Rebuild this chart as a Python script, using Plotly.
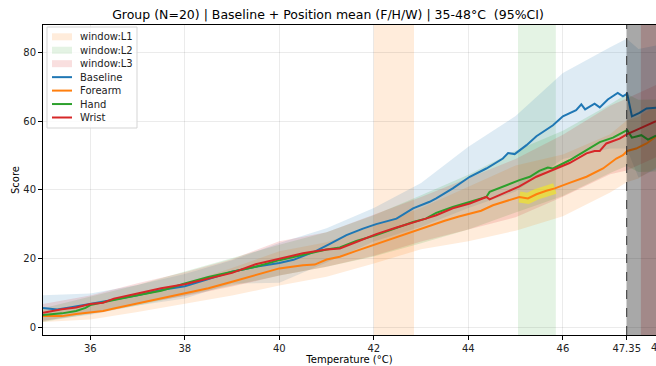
import plotly.graph_objects as go

# ---------------- data ----------------
base_x = [35.0,35.3,35.6,36.0,36.5,37.0,37.5,38.0,38.5,39.0,39.5,40.0,40.3,40.57,40.78,41.06,41.42,41.77,42.05,42.48,42.83,43.18,43.32,43.67,44.03,44.38,44.73,44.84,44.98,45.23,45.44,45.79,46.0,46.28,46.39,46.47,46.67,46.78,46.95,47.16,47.27,47.36,47.46,47.62,47.77,47.97]
base_y = [5.6,5.1,5.8,6.7,8.0,9.3,10.8,11.9,14.1,16.1,17.6,18.7,19.6,21.0,22.2,24.2,26.8,28.7,30.0,31.6,34.6,36.5,37.5,40.4,43.8,46.2,49.1,50.7,50.4,53.0,55.6,58.8,61.4,63.2,64.9,63.4,65.1,64.0,66.3,68.2,67.2,68.0,61.4,62.4,63.7,63.9]

fore_x = [35.0,35.4,35.7,36.0,36.27,36.5,37.0,37.5,38.0,38.5,39.0,39.5,40.0,40.5,40.75,41.0,41.28,41.63,42.05,42.48,42.83,43.18,43.5,43.8,44.03,44.27,44.52,44.8,45.08,45.26,45.44,45.65,45.83,46.14,46.5,46.85,47.13,47.27,47.36,47.55,47.77,47.97]
fore_y = [3.2,3.2,3.8,4.2,4.7,5.4,6.9,8.3,9.8,11.3,13.2,15.1,17.1,18.0,18.2,19.7,20.5,22.2,24.2,26.1,27.7,29.4,31.0,32.2,33.1,33.9,35.5,36.8,37.9,37.5,38.7,39.7,40.4,42.0,43.8,46.2,49.1,50.1,51.3,52.0,53.5,55.5]

hand_x = [35.0,35.4,35.7,35.9,36.0,36.27,36.5,37.0,37.5,38.0,38.5,39.0,39.5,40.0,40.5,41.0,41.28,41.63,42.05,42.48,42.83,43.1,43.32,43.67,44.03,44.38,44.45,44.73,45.08,45.3,45.5,45.68,45.79,46.14,46.42,46.78,47.06,47.36,47.46,47.66,47.8,47.97]
hand_y = [3.5,4.0,4.7,5.6,6.4,7.1,7.9,9.3,10.6,12.7,14.6,16.1,17.6,19.5,21.0,22.6,23.2,25.1,26.8,29.0,30.6,31.6,33.3,35.0,36.5,37.9,39.4,41.0,42.8,43.8,45.5,46.5,46.2,48.6,51.0,53.9,55.2,57.4,55.2,55.9,54.6,55.8]

wrist_x = [35.0,35.4,35.7,36.0,36.27,36.5,37.0,37.5,38.0,38.5,39.0,39.5,40.0,40.5,41.0,41.28,41.63,42.05,42.48,42.83,43.1,43.32,43.67,44.03,44.38,44.45,44.73,45.08,45.44,45.79,46.14,46.5,46.67,46.78,46.92,47.2,47.36,47.62,47.97]
wrist_y = [4.2,5.2,5.7,6.7,7.1,8.3,9.8,11.3,12.5,14.2,15.8,18.3,20.0,21.5,22.6,22.9,24.8,27.1,29.0,30.4,31.6,32.6,34.6,36.0,37.9,37.2,38.9,41.0,43.8,45.7,47.8,50.6,51.3,51.3,53.5,54.9,56.2,57.8,60.0]

# 95% CI bounds
ci_x = [35,36,37,38,39,40,41,42,43,44,45,46,47,47.35,47.6,47.97]
base_lo = [1.9,3.6,6.3,8.3,12.7,12.9,18.8,24.9,29.2,34.7,39.5,49.0,52.0,52.0,43.6,46.0]
base_hi = [9.3,9.8,12.3,15.5,19.5,24.5,28.8,34.7,42.0,52.5,61.5,74.0,81.5,84.0,81.0,82.0]
fore_lo = [1.5,2.2,4.4,6.8,9.2,12.1,14.7,18.5,22.7,25.0,28.1,32.3,39.2,42.2,43.3,46.5]
fore_hi = [4.9,6.2,9.4,12.8,17.2,22.1,24.7,29.5,34.7,41.0,47.1,50.3,56.2,60.2,61.3,64.5]
hand_lo = [1.5,3.9,6.3,9.2,12.1,15.0,17.6,20.6,24.4,28.4,33.4,38.2,44.9,46.9,45.2,45.3]
hand_hi = [5.5,8.9,12.3,16.2,20.1,24.0,27.6,32.6,38.4,44.4,51.4,57.2,64.9,67.9,66.2,66.3]
wrist_lo = [1.7,4.2,6.8,9.0,11.8,15.0,17.6,20.8,24.9,28.4,32.0,38.0,44.5,45.6,47.2,49.5]
wrist_hi = [6.7,9.2,12.8,16.0,19.8,25.0,27.6,32.8,37.9,43.4,49.0,56.0,64.5,66.6,68.2,70.5]

windows = {"L1": (42.0, 42.85), "L2": (45.05, 45.85), "L3": (47.65, 48.6)}
cutoff = 47.35
x_ticks = [36, 38, 40, 42, 44, 46, 47.35]
x_ticktext = ["36", "38", "40", "42", "44", "46", "47.35"]
y_ticks = [0, 20, 40, 60, 80]

# ---------------- style ----------------
C = {"Baseline": "31,119,180", "Forearm": "255,127,14", "Hand": "44,160,44", "Wrist": "214,39,40"}
win_col = {"L1": "rgba(255,127,14,0.15)", "L2": "rgba(44,160,44,0.13)", "L3": "rgba(214,39,40,0.22)"}
leg_patch = {"L1": "rgba(255,127,14,0.15)", "L2": "rgba(44,160,44,0.13)", "L3": "rgba(214,39,40,0.15)"}
FONT = "DejaVu Sans"
XMAX = 47.97
W, H = 656, 366
ML, MR, MT, MB = 43, 0, 25, 31
PW, PH = W - ML - MR, H - MT - MB

def px(x):  # pixel -> paper x
    return (x - ML) / PW

def py(y):  # pixel -> paper y
    return (H - MB - y) / PH

series = [
    ("Baseline", base_x, base_y, base_lo, base_hi),
    ("Forearm", fore_x, fore_y, fore_lo, fore_hi),
    ("Hand", hand_x, hand_y, hand_lo, hand_hi),
    ("Wrist", wrist_x, wrist_y, wrist_lo, wrist_hi),
]

fig = go.Figure()

# window shading
for k, (a, b) in windows.items():
    fig.add_shape(type="rect", xref="x", yref="paper", x0=a, x1=b, y0=0, y1=1,
                  fillcolor=win_col[k], line_width=0, layer="below")

# CI bands
for name, xs, ys, lo, hi in series:
    fig.add_trace(go.Scatter(x=ci_x, y=hi, mode="lines", line=dict(width=0),
                             showlegend=False, hoverinfo="skip"))
    fig.add_trace(go.Scatter(x=ci_x, y=lo, mode="lines", line=dict(width=0),
                             fill="tonexty", fillcolor=f"rgba({C[name]},0.15)",
                             showlegend=False, hoverinfo="skip"))

# highlight of forearm in L2 window
a, b = windows["L2"]
hx = [x for x in fore_x if a <= x <= b]
hy = [y for x, y in zip(fore_x, fore_y) if a <= x <= b]
fig.add_trace(go.Scatter(x=hx, y=hy, mode="lines",
                         line=dict(color="rgba(255,245,0,0.5)", width=11),
                         showlegend=False, hoverinfo="skip"))

# mean lines
for name, xs, ys, lo, hi in series:
    fig.add_trace(go.Scatter(x=xs, y=ys, mode="lines", name=name, showlegend=False,
                             line=dict(color=f"rgb({C[name]})", width=2)))

# end region and cutoff
fig.add_shape(type="rect", xref="x", yref="paper", x0=cutoff, x1=48.6, y0=0, y1=1,
              fillcolor="rgba(0,0,0,0.34)", line_width=0, layer="above")
fig.add_shape(type="line", xref="x", yref="paper", x0=cutoff, x1=cutoff, y0=0, y1=1,
              line=dict(color="#333333", width=1, dash="dash"), layer="above")

# ---- legend (matplotlib-like compact box) ----
fig.add_shape(type="rect", xref="paper", yref="paper", x0=px(47), x1=px(137),
              y0=py(128), y1=py(27), fillcolor="rgba(255,255,255,0.8)",
              line=dict(color="#d5d5d5", width=1), layer="above")
leg_items = [("window:L1", "patch", leg_patch["L1"]),
             ("window:L2", "patch", leg_patch["L2"]),
             ("window:L3", "patch", leg_patch["L3"]),
             ("Baseline", "line", f"rgb({C['Baseline']})"),
             ("Forearm", "line", f"rgb({C['Forearm']})"),
             ("Hand", "line", f"rgb({C['Hand']})"),
             ("Wrist", "line", f"rgb({C['Wrist']})")]
y0 = 36.8
step = 13.45
for i, (label, kind, col) in enumerate(leg_items):
    yc = y0 + i * step
    if kind == "patch":
        fig.add_shape(type="rect", xref="paper", yref="paper", x0=px(52), x1=px(72),
                      y0=py(yc + 3.5), y1=py(yc - 3.5), fillcolor=col, line_width=0,
                      layer="above")
    else:
        fig.add_shape(type="line", xref="paper", yref="paper", x0=px(52), x1=px(72),
                      y0=py(yc), y1=py(yc), line=dict(color=col, width=2), layer="above")
    fig.add_annotation(xref="paper", yref="paper", x=px(78), y=py(yc), text=label,
                       showarrow=False, xanchor="left", yanchor="middle",
                       font=dict(family=FONT, size=10, color="#222"))

fig.add_annotation(xref="paper", yref="paper", x=(48 - 35) / (XMAX - 35), y=0,
                   yshift=-12, text="48", showarrow=False, xanchor="center",
                   yanchor="middle", font=dict(family=FONT, size=10, color="#222"))

axis_common = dict(showline=True, linecolor="black", linewidth=1, mirror=True,
                   ticks="outside", ticklen=4, tickcolor="black",
                   showgrid=True, gridcolor="rgba(0,0,0,0.08)", gridwidth=1,
                   zeroline=False, tickfont=dict(family=FONT, size=10, color="#222"))

fig.update_layout(
    width=W, height=H,
    margin=dict(l=ML, r=MR, t=MT, b=MB),
    paper_bgcolor="white", plot_bgcolor="white",
    title=dict(text="Group (N=20) | Baseline + Position mean (F/H/W) | 35-48°C  (95%CI)",
               x=0.5, xanchor="center", y=1 - 15 / H, yanchor="middle",
               font=dict(family=FONT, size=12.5, color="black")),
    xaxis=dict(range=[35, XMAX], tickvals=x_ticks, ticktext=x_ticktext,
               title=dict(text="Temperature (°C)", standoff=2,
                          font=dict(family=FONT, size=10, color="black")),
               **axis_common),
    yaxis=dict(range=[-2.3, 88], tickvals=y_ticks,
               title=dict(text="Score", standoff=1,
                          font=dict(family=FONT, size=10, color="black")),
               **axis_common),
    showlegend=False,
)

fig.write_html("out.html", config={"displayModeBar": False},
               post_script="document.body.style.margin='0';document.body.style.padding='0';document.body.style.overflow='hidden';")
